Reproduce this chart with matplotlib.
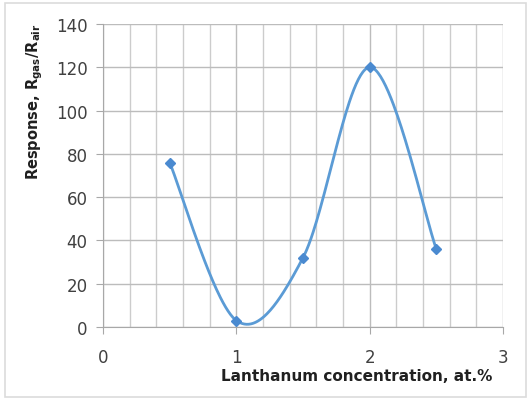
import numpy as np
import matplotlib
matplotlib.use("Agg")
import matplotlib.pyplot as plt
from matplotlib.patches import Rectangle

conc = [0.5, 1.0, 1.5, 2.0, 2.5]
response = [76, 3, 32, 120, 36]
xticks = [0, 1, 2, 3]
yticks = [0, 20, 40, 60, 80, 100, 120, 140]

fig = plt.figure(figsize=(5.31, 4.02), dpi=100)
fig.patches.append(Rectangle((0.01, 0.01), 0.98, 0.98, transform=fig.transFigure,
                             fill=False, edgecolor='#dcdcdc', linewidth=1.2))
ax = fig.add_axes([103 / 531, 74 / 402, 400 / 531, 303 / 402])
ax.set_xlim(0, 3)
ax.set_ylim(0, 140)

# Excel-style smoothing (Bezier with tension) in approximate pixel space
sx, sy = 400 / 3.0, 303 / 140.0
P = np.column_stack([np.array(conc) * sx, np.array(response) * sy])
n = len(P)
curve = []
for i in range(n - 1):
    p0 = P[i - 1] if i > 0 else P[i]
    p1 = P[i]
    p2 = P[i + 1]
    p3 = P[i + 2] if i + 2 < n else P[i + 1]
    c1 = p1 + (p2 - p0) / 6.0
    c2 = p2 - (p3 - p1) / 6.0
    t = np.linspace(0, 1, 60)[:, None]
    seg = ((1 - t) ** 3) * p1 + 3 * ((1 - t) ** 2) * t * c1 + 3 * (1 - t) * t ** 2 * c2 + t ** 3 * p2
    curve.append(seg)
curve = np.vstack(curve)
ax.plot(curve[:, 0] / sx, curve[:, 1] / sy, color='#5b9bd5', linewidth=2.0, zorder=3)
ax.plot(conc, response, linestyle='none', marker='D', markersize=5,
        color='#4a8ad0', zorder=4)

ax.set_xticks(xticks)
ax.set_yticks(yticks)
ax.set_xticks(np.arange(0, 3.01, 0.2), minor=True)
ax.grid(True, which='major', color='#bcbcbc', linewidth=1.0)
ax.grid(True, which='minor', axis='x', color='#cccccc', linewidth=1.0)
for s in ['top', 'right']:
    ax.spines[s].set_visible(False)
for s in ['left', 'bottom']:
    ax.spines[s].set_color('#a8a8a8')
ax.tick_params(axis='both', which='major', length=5, color='#a8a8a8',
               labelsize=12, labelcolor='#404040')
ax.tick_params(axis='x', which='major', pad=10)
ax.tick_params(axis='y', which='major', pad=6)
ax.tick_params(axis='x', which='minor', length=0)
ax.set_axisbelow(True)

fig.text(35 / 531, 1 - 102 / 402, r'Response, R$_{\mathbf{gas}}$/R$_{\mathbf{air}}$',
         rotation=90, ha='center', va='center', fontsize=10.5, fontweight='bold',
         color='#202020')
fig.text(357 / 531, 1 - 377 / 402, 'Lanthanum concentration, at.%',
         ha='center', va='center', fontsize=11, fontweight='bold', color='#202020')

fig.savefig('out.png', dpi=100)
